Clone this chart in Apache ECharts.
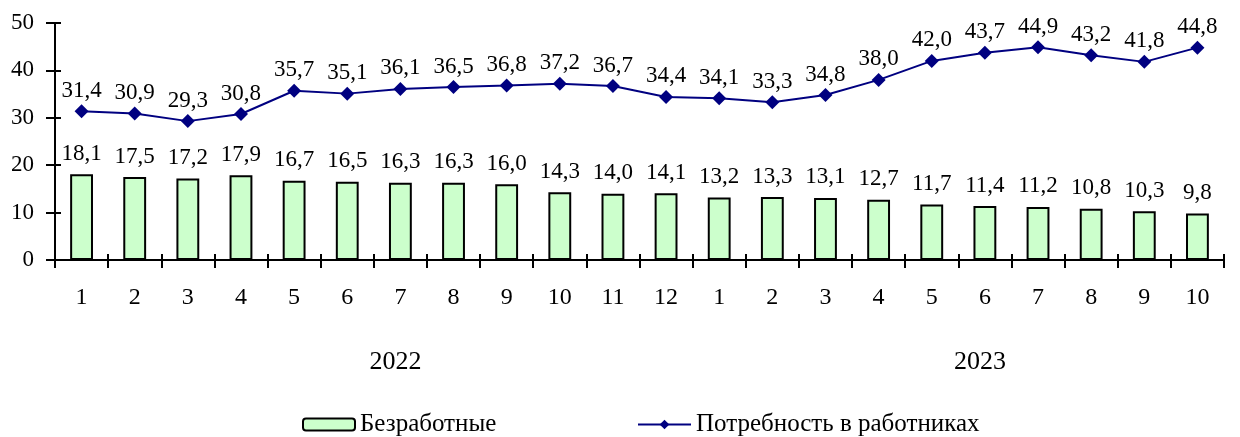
<!DOCTYPE html>
<html><head><meta charset="utf-8">
<script src="https://cdn.jsdelivr.net/npm/echarts@6/dist/echarts.min.js"></script>
<style>html,body{margin:0;padding:0;background:#fff}#c{width:1240px;height:437px}</style>
</head><body><div id="c"></div>
<script>
const months = ['1','2','3','4','5','6','7','8','9','10','11','12','1','2','3','4','5','6','7','8','9','10'];
const unemployed = [18.1,17.5,17.2,17.9,16.7,16.5,16.3,16.3,16.0,14.3,14.0,14.1,13.2,13.3,13.1,12.7,11.7,11.4,11.2,10.8,10.3,9.8];
const demand = [31.4,30.9,29.3,30.8,35.7,35.1,36.1,36.5,36.8,37.2,36.7,34.4,34.1,33.3,34.8,38.0,42.0,43.7,44.9,43.2,41.8,44.8];
const yearLabels = ['','','','','','','2022','','','','','','','','','','','2023','','','',''];
const seriesNames = ['Безработные','Потребность в работниках'];

const FONT = '"Liberation Serif","Times New Roman",serif';
const fmt = p => p.value.toFixed(1).replace('.', ',');
const chart = echarts.init(document.getElementById('c'), null, {renderer:'canvas'});
chart.setOption({
  animation:false,
  textStyle:{fontFamily:FONT,color:'#000'},
  grid:{left:55,right:16,top:23,bottom:177,containLabel:false},
  legend:[
    {data:[seriesNames[0]],left:297,top:407,itemWidth:52,itemHeight:12,
     textStyle:{fontFamily:FONT,fontSize:25,color:'#000'}},
    {data:[seriesNames[1]],left:632,top:407,itemWidth:53,itemHeight:12,
     textStyle:{fontFamily:FONT,fontSize:25,color:'#000'}}
  ],
  xAxis:[
    {type:'category',data:months,boundaryGap:true,
     axisLine:{lineStyle:{color:'#000',width:2}},
     axisTick:{show:true,length:8,lineStyle:{color:'#000',width:2}},
     axisLabel:{fontFamily:FONT,fontSize:24,color:'#000',margin:26}},
    {type:'category',data:yearLabels,position:'bottom',boundaryGap:true,
     axisLine:{show:false},
     axisTick:{show:true,inside:true,length:6,lineStyle:{color:'#000',width:2}},
     axisLabel:{fontFamily:FONT,fontSize:26,color:'#000',margin:89,interval:0,padding:[0,10,0,0]}}
  ],
  yAxis:[
    {type:'value',min:0,max:50,interval:10,
     splitLine:{show:false},
     axisLine:{show:true,lineStyle:{color:'#000',width:2}},
     axisTick:{show:true,length:9,lineStyle:{color:'#000',width:2}},
     axisLabel:{fontFamily:FONT,fontSize:23,color:'#000',margin:21}},
    {type:'value',min:0,max:50,interval:10,position:'left',
     splitLine:{show:false},
     axisLine:{show:false},
     axisTick:{show:true,inside:true,length:6,lineStyle:{color:'#000',width:2}},
     axisLabel:{show:false}}
  ],
  series:[
    {name:seriesNames[0],type:'bar',data:unemployed,barWidth:'43%',
     itemStyle:{color:'#CCFFCC',borderColor:'#000',borderWidth:2},
     label:{show:true,position:'top',distance:9,formatter:fmt,fontFamily:FONT,fontSize:23,color:'#000'}},
    {name:seriesNames[1],type:'line',data:demand,symbol:'diamond',symbolSize:14,
     lineStyle:{color:'#000080',width:2},itemStyle:{color:'#000080'},
     label:{show:true,position:'top',distance:2,formatter:fmt,fontFamily:FONT,fontSize:23,color:'#000'}}
  ]
});
</script></body></html>
